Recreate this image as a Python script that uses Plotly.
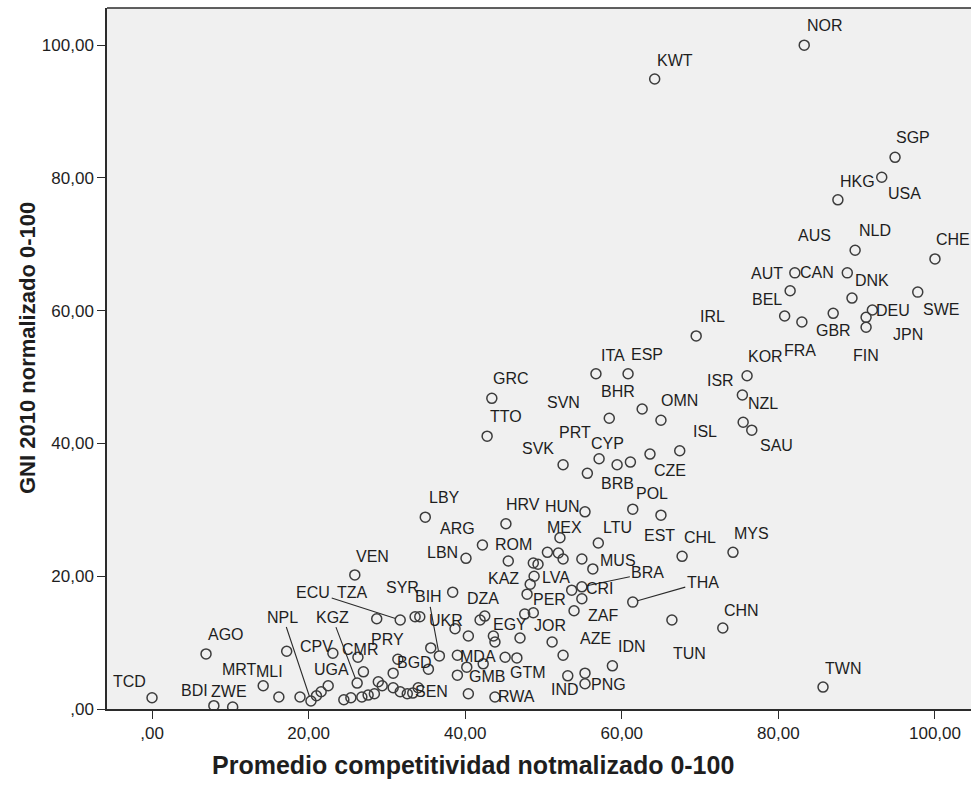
import plotly.graph_objects as go

# Country codes (ISO-3 style); "" marks points drawn without a label
codes = [
    "NOR", "KWT", "SGP", "USA", "HKG", "AUS", "NLD", "CHE", "AUT", "CAN",
    "DNK", "BEL", "SWE", "DEU", "JPN", "FIN", "GBR", "FRA", "IRL", "KOR",
    "ISR", "NZL", "SAU", "ISL", "ITA", "ESP", "GRC", "TTO", "BHR", "SVN",
    "OMN", "CZE", "PRT", "CYP", "BRB", "SVK", "POL", "EST", "HUN", "HRV",
    "LBY", "ARG", "LBN", "ROM", "MEX", "LTU", "CHL", "MYS", "MUS", "BRA",
    "CRI", "THA", "ZAF", "TUN", "CHN", "TWN", "IDN", "AZE", "JOR", "EGY",
    "GTM", "MDA", "GMB", "RWA", "IND", "PNG", "SEN", "BGD", "PRY", "CMR",
    "CPV", "UGA", "NPL", "KGZ", "ECU", "TZA", "SYR", "BIH", "UKR", "DZA",
    "KAZ", "LVA", "PER", "VEN", "AGO", "TCD", "BDI", "ZWE", "MRT", "MLI",
    "", "", "", "", "", "", "", "", "", "",
    "", "", "", "", "", "", "", "", "", "",
    "", "", "", "", "", "", "", "", "", "",
    "", "", "", "", "", "", "", "", "",
]

# Average competitiveness index, normalised 0-100
competitividad = [
    83.3, 64.2, 94.9, 93.2, 87.6, 82.1, 89.8, 100.0, 81.5, 88.8,
    89.4, 80.8, 97.8, 92.0, 91.2, 91.2, 87.0, 83.0, 69.5, 76.0,
    75.4, 75.5, 76.6, 67.4, 56.7, 60.8, 43.4, 42.8, 62.6, 58.4,
    65.0, 63.6, 57.1, 61.1, 59.4, 52.5, 61.4, 65.0, 55.3, 45.2,
    34.9, 42.2, 40.1, 45.5, 52.1, 57.0, 67.7, 74.2, 56.3, 54.9,
    53.6, 61.4, 53.9, 66.4, 72.9, 85.7, 58.8, 52.5, 51.1, 43.6,
    46.6, 39.0, 40.2, 43.8, 53.1, 55.3, 33.3, 31.4, 26.3, 23.1,
    17.2, 22.5, 20.3, 26.2, 31.7, 28.7, 33.6, 36.7, 35.6, 38.4,
    48.3, 48.8, 47.9, 25.9, 6.9, 0.0, 7.9, 10.3, 14.2, 16.2,
    55.6, 18.9, 21.0, 21.6, 24.5, 25.4, 26.8, 27.6, 28.4, 27.0,
    28.9, 29.4, 30.8, 31.7, 32.6, 34.0, 30.8, 35.3, 40.4, 38.7,
    41.9, 42.5, 34.2, 42.3, 39.0, 45.1, 43.8, 47.0, 47.6, 48.7,
    40.4, 54.9, 50.5, 51.9, 52.5, 54.9, 48.7, 49.3, 55.3,
]

# GNI 2010, normalised 0-100
gni = [
    100.0, 94.9, 83.1, 80.1, 76.7, 65.7, 69.1, 67.8, 63.0, 65.7,
    61.9, 59.2, 62.8, 60.1, 59.0, 57.5, 59.6, 58.3, 56.2, 50.2,
    47.3, 43.2, 42.0, 38.9, 50.5, 50.5, 46.8, 41.1, 45.2, 43.8,
    43.5, 38.4, 37.7, 37.2, 36.8, 36.8, 30.1, 29.2, 29.7, 27.9,
    28.9, 24.7, 22.7, 22.3, 25.8, 25.0, 23.0, 23.6, 21.1, 18.4,
    17.9, 16.1, 14.8, 13.4, 12.2, 3.3, 6.5, 8.1, 10.1, 11.0,
    7.7, 8.1, 6.3, 1.8, 5.0, 3.8, 2.4, 7.5, 7.8, 8.4,
    8.7, 3.5, 1.2, 3.9, 13.4, 13.6, 13.9, 8.0, 9.2, 17.6,
    18.8, 20.0, 17.3, 20.2, 8.3, 1.7, 0.5, 0.3, 3.5, 1.8,
    35.5, 1.8, 2.0, 2.6, 1.4, 1.7, 1.8, 2.1, 2.3, 5.6,
    4.1, 3.5, 3.2, 2.6, 2.3, 3.2, 5.4, 6.0, 11.0, 12.1,
    13.4, 14.0, 13.9, 6.8, 5.1, 7.8, 10.1, 10.7, 14.3, 14.5,
    2.3, 16.6, 23.6, 23.5, 22.6, 22.6, 22.0, 21.8, 5.4,
]

tick_values = [0, 20, 40, 60, 80, 100]
tick_labels = [",00", "20,00", "40,00", "60,00", "80,00", "100,00"]

# Label placement relative to each marker, in screen pixels (dx right, dy down)
label_offsets = {
    "NOR": (21, -20), "KWT": (20, -19), "SGP": (18, -20), "USA": (23, 16),
    "HKG": (20, -18), "AUS": (20, -37), "NLD": (20, -20), "CHE": (18, -19),
    "AUT": (-23, -17), "CAN": (-30, 0), "DNK": (20, -18), "BEL": (-18, -17),
    "SWE": (23, 17), "DEU": (21, 0), "JPN": (42, 17), "FIN": (0, 28),
    "GBR": (0, 17), "FRA": (-2, 29), "IRL": (16, -19), "KOR": (18, -19),
    "ISR": (-22, -15), "NZL": (20, -19), "SAU": (25, 15), "ISL": (25, -19),
    "ITA": (17, -18), "ESP": (19, -19), "GRC": (19, -20), "TTO": (19, -20),
    "BHR": (-24, -17), "SVN": (-46, -16), "OMN": (19, -20), "CZE": (20, 16),
    "PRT": (-24, -26), "CYP": (-23, -19), "BRB": (0, 19), "SVK": (-25, -16),
    "POL": (19, -16), "EST": (-1, 20), "HUN": (-23, -5), "HRV": (17, -19),
    "LBY": (19, -20), "ARG": (-25, -17), "LBN": (-23, -6), "ROM": (5, -16),
    "MEX": (5, -10), "LTU": (19, -16), "CHL": (18, -19), "MYS": (19, -19),
    "MUS": (25, -8), "CRI": (28, -2), "ZAF": (29, 5), "TUN": (18, 33),
    "CHN": (19, -18), "TWN": (20, -19), "IDN": (20, -19), "AZE": (32, -17),
    "JOR": (-2, -16), "EGY": (17, -11), "GTM": (11, 15), "MDA": (21, 1),
    "GMB": (20, 9), "RWA": (22, -1), "IND": (-3, 14), "PNG": (23, 1),
    "SEN": (19, -2), "BGD": (17, 3), "PRY": (30, -18), "CMR": (27, -4),
    "CPV": (30, -5), "UGA": (3, -16), "TZA": (-24, -26), "SYR": (-13, -29),
    "UKR": (15, -27), "DZA": (30, 6), "KAZ": (-27, -6), "LVA": (22, 1),
    "PER": (22, 5), "VEN": (18, -18), "AGO": (20, -19), "TCD": (-23, -16),
    "BDI": (-19, -15), "ZWE": (-4, -16), "MRT": (-24, -16), "MLI": (-9, -26),
}

# Labels pushed away from crowded points, joined back with a leader line
leader_offsets = {
    "NPL": (-28, -84), "KGZ": (-25, -66), "ECU": (-87, -28),
    "BIH": (-11, -59), "BRA": (66, -14), "THA": (70, -20),
}

FONT = "Liberation Sans, Arial, Helvetica, sans-serif"
INK = "#1e1e1e"
LINE = "#2b2b2b"

fig = go.Figure()
fig.add_trace(go.Scatter(
    x=competitividad,
    y=gni,
    mode="markers",
    text=codes,
    hoverinfo="text+x+y",
    marker=dict(symbol="circle-open", size=10, color="#3c3c3c",
                line=dict(width=1.5)),
    showlegend=False,
))

annotations = []
for code, cx, gy in zip(codes, competitividad, gni):
    if not code:
        continue
    if code in leader_offsets:
        ax, ay = leader_offsets[code]
        annotations.append(dict(
            x=cx, y=gy, xref="x", yref="y", text=code,
            showarrow=True, arrowhead=0, arrowwidth=1.1, arrowcolor=LINE,
            ax=ax, ay=ay, standoff=5,
            font=dict(family=FONT, size=16, color=INK),
        ))
    else:
        dx, dy = label_offsets[code]
        annotations.append(dict(
            x=cx, y=gy, xref="x", yref="y", text=code,
            showarrow=False, xshift=dx, yshift=-dy,
            font=dict(family=FONT, size=16, color=INK),
        ))

# Axis titles
annotations.append(dict(
    x=0.4236, y=-0.080, xref="paper", yref="paper",
    text="<b>Promedio competitividad notmalizado 0-100</b>",
    showarrow=False, xanchor="center", yanchor="middle",
    font=dict(family=FONT, size=25, color=INK),
))
annotations.append(dict(
    x=-0.0914, y=0.515, xref="paper", yref="paper",
    text="<b>GNI 2010 normalizado 0-100</b>", textangle=-90,
    showarrow=False, xanchor="center", yanchor="middle",
    font=dict(family=FONT, size=22, color=INK),
))

axis_style = dict(
    tickvals=tick_values, ticktext=tick_labels,
    ticks="outside", ticklen=8, tickwidth=1.2, tickcolor=LINE,
    showline=True, linecolor=LINE, linewidth=1.5,
    showgrid=False, zeroline=False,
    tickfont=dict(family=FONT, size=17, color=INK),
)

fig.update_layout(
    width=971, height=787,
    margin=dict(l=107, r=0, t=8, b=78),
    paper_bgcolor="white",
    plot_bgcolor="#f0f0f0",
    xaxis=dict(range=[-5.75, 104.6], **axis_style),
    yaxis=dict(range=[0, 105.6], **axis_style),
    annotations=annotations,
    shapes=[dict(type="line", xref="paper", yref="paper",
                 x0=0, x1=1, y0=1, y1=1,
                 line=dict(color=LINE, width=1.5))],
    font=dict(family=FONT, color=INK),
)

fig.write_html("out.html")
